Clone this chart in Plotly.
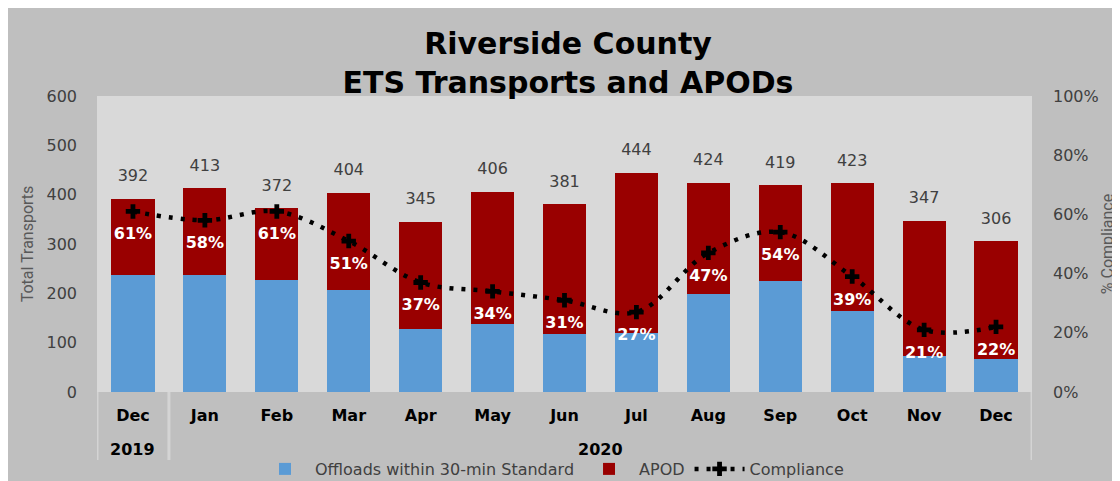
import plotly.graph_objects as go

years = ["2019", "2020"]
year_spans = [(0, 0), (1, 12)]  # first and last month index of each year group
months = ["Dec", "Jan", "Feb", "Mar", "Apr", "May", "Jun", "Jul", "Aug", "Sep", "Oct", "Nov", "Dec"]
totals = [392, 413, 372, 404, 345, 406, 381, 444, 424, 419, 423, 347, 306]
offloads = [238, 238, 227, 206, 128, 138, 118, 120, 199, 226, 165, 73, 67]
compliance = [0.61, 0.58, 0.61, 0.51, 0.37, 0.34, 0.31, 0.27, 0.47, 0.54, 0.39, 0.21, 0.22]
apod = [t - o for t, o in zip(totals, offloads)]

W, H = 1120, 481
L, T = 89, 88
PW, PH = 935, 296
R, B = W - L - PW, H - T - PH

FONT = "DejaVu Sans"
TFONT = "Roboto"
idx = list(range(len(months)))

def py(p):  # figure pixel y -> paper y
    return (T + PH - p) / PH

def pxx(p):  # figure pixel x -> paper x
    return (p - L) / PW

fig = go.Figure()
fig.add_trace(go.Bar(x=idx, y=offloads, name="Offloads within 30-min Standard",
                     marker=dict(color="#5b9bd5", line=dict(width=0))))
fig.add_trace(go.Bar(x=idx, y=apod, name="APOD",
                     marker=dict(color="#990000", line=dict(width=0))))
fig.add_trace(go.Scatter(x=idx, y=compliance, name="Compliance", yaxis="y2",
                         mode="lines+markers",
                         line=dict(color="black", width=4.5, dash="4px,8px", shape="spline"),
                         marker=dict(symbol="cross", size=12, color="black")))
# total labels
fig.add_trace(go.Scatter(x=idx, y=totals, mode="markers+text", text=[str(t) for t in totals],
                         textposition="top center", marker=dict(size=20, opacity=0),
                         textfont=dict(family=FONT, size=16, color="#404040"),
                         showlegend=False, hoverinfo="skip"))
# percent labels
fig.add_trace(go.Scatter(x=idx, y=compliance, yaxis="y2", mode="markers+text",
                         text=[f"{round(c*100)}%" for c in compliance],
                         textposition="bottom center", marker=dict(size=24, opacity=0),
                         textfont=dict(family=FONT, size=16, color="white", weight="bold"),
                         showlegend=False, hoverinfo="skip"))

annotations = []
shapes = []
div_bottom = py(452)
bounds = set()
for yr, (a, b) in zip(years, year_spans):
    annotations.append(dict(text=yr, x=(a + b) / 2, xref="x", y=py(441), yref="paper",
                            showarrow=False, xanchor="center", yanchor="middle",
                            font=dict(family=FONT, size=16, color="black", weight="bold")))
    bounds.add(a - 0.5)
    bounds.add(b + 0.5)
for bx in sorted(bounds):
    shapes.append(dict(type="line", xref="x", yref="paper", x0=bx, x1=bx, y0=0, y1=div_bottom,
                       line=dict(color="#d4d4d4", width=3), layer="above"))

fig.update_layout(
    width=W, height=H,
    margin=dict(l=L, r=R, t=T, b=B, autoexpand=False),
    paper_bgcolor="#bfbfbf", plot_bgcolor="#d9d9d9",
    barmode="stack", bargap=0.4,
    font=dict(family=FONT, color="#404040"),
    title=dict(text="Riverside County<br>ETS Transports and APODs", x=pxx(560) * PW / W + L / W,
               xref="container", y=1 - 46 / H, yref="container", xanchor="center", yanchor="middle",
               font=dict(family=FONT, size=30, color="black", weight="bold")),
    xaxis=dict(range=[-0.5, len(months) - 0.5], tickvals=idx, ticktext=months,
               showgrid=False, showline=False, zeroline=False, ticks="",
               tickfont=dict(family=FONT, size=16, color="black", weight="bold"),
               ticklabelstandoff=12, automargin=False),
    yaxis=dict(range=[0, 600], dtick=100, showgrid=False, zeroline=False, showline=False,
               tickfont=dict(family=FONT, size=16, color="#404040"), ticklabelstandoff=19,
               title=dict(text="Total Transports", font=dict(family=TFONT, size=16, color="#595959"),
                          standoff=8),
               automargin=False),
    yaxis2=dict(range=[0, 1], dtick=0.2, tickformat=".0%", overlaying="y", side="right",
                showgrid=False, zeroline=False, showline=False,
                tickfont=dict(family=FONT, size=16, color="#404040"), ticklabelstandoff=20,
                title=dict(text="% Compliance", font=dict(family=TFONT, size=16, color="#595959"),
                           standoff=4),
                automargin=False),
    legend=dict(orientation="h", traceorder="normal", x=pxx(544), xanchor="center",
                y=py(461), yanchor="middle", itemwidth=50,
                font=dict(family=FONT, size=16, color="#404040"), bgcolor="rgba(0,0,0,0)"),
    annotations=annotations,
    shapes=shapes,
    showlegend=True,
)

fig.write_html("out.html")
